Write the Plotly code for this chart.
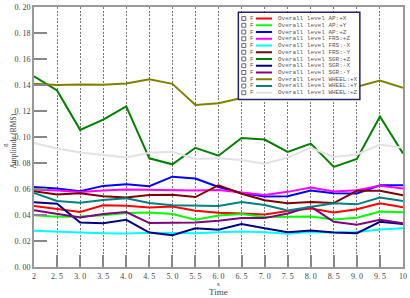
import plotly.graph_objects as go

time = [2.0, 2.5, 3.0, 3.5, 4.0, 4.5, 5.0, 5.5, 6.0, 6.5, 7.0, 7.5, 8.0, 8.5, 9.0, 9.5, 10.0]

ap_x = [0.0470, 0.0449, 0.0424, 0.0475, 0.0472, 0.0457, 0.0465, 0.0432, 0.0418, 0.0412, 0.0404, 0.0430, 0.0449, 0.0419, 0.0444, 0.0490, 0.0460]
ap_y = [0.0399, 0.0386, 0.0389, 0.0399, 0.0416, 0.0419, 0.0407, 0.0364, 0.0396, 0.0407, 0.0384, 0.0386, 0.0389, 0.0366, 0.0379, 0.0427, 0.0422]
ap_z = [0.0616, 0.0604, 0.0583, 0.0624, 0.0636, 0.0621, 0.0695, 0.0680, 0.0615, 0.0570, 0.0543, 0.0545, 0.0589, 0.0568, 0.0566, 0.0629, 0.0629]
frs_z = [0.0596, 0.0589, 0.0576, 0.0589, 0.0596, 0.0593, 0.0590, 0.0589, 0.0593, 0.0573, 0.0553, 0.0578, 0.0611, 0.0581, 0.0590, 0.0624, 0.0604]
frs_mx = [0.0278, 0.0270, 0.0265, 0.0260, 0.0258, 0.0263, 0.0260, 0.0260, 0.0267, 0.0273, 0.0267, 0.0255, 0.0270, 0.0265, 0.0270, 0.0288, 0.0298]
frs_my = [0.0583, 0.0558, 0.0568, 0.0545, 0.0535, 0.0553, 0.0556, 0.0538, 0.0629, 0.0563, 0.0513, 0.0490, 0.0500, 0.0492, 0.0586, 0.0586, 0.0551]
sgr_z = [0.1467, 0.1358, 0.1055, 0.1134, 0.1235, 0.0836, 0.0790, 0.0917, 0.0856, 0.0992, 0.0980, 0.0886, 0.0949, 0.0770, 0.0831, 0.1157, 0.0874]
sgr_mx = [0.0498, 0.0487, 0.0343, 0.0336, 0.0363, 0.0265, 0.0245, 0.0298, 0.0286, 0.0331, 0.0298, 0.0267, 0.0280, 0.0265, 0.0260, 0.0348, 0.0331]
sgr_my = [0.0437, 0.0407, 0.0381, 0.0407, 0.0423, 0.0338, 0.0343, 0.0343, 0.0356, 0.0376, 0.0376, 0.0412, 0.0465, 0.0348, 0.0326, 0.0364, 0.0336]
wheel_x = [0.1409, 0.1400, 0.1404, 0.1402, 0.1412, 0.1445, 0.1409, 0.1247, 0.1260, 0.1300, 0.1340, 0.1330, 0.1360, 0.1370, 0.1386, 0.1434, 0.1379]
wheel_y = [0.0570, 0.0508, 0.0495, 0.0515, 0.0529, 0.0492, 0.0475, 0.0475, 0.0470, 0.0500, 0.0477, 0.0434, 0.0462, 0.0490, 0.0482, 0.0535, 0.0508]
wheel_z = [0.0955, 0.0912, 0.0881, 0.0861, 0.0843, 0.0879, 0.0886, 0.0831, 0.0836, 0.0823, 0.0795, 0.0841, 0.0917, 0.0846, 0.0866, 0.0942, 0.0917]

series_names = ["Overall level AP:+X", "Overall level AP:+Y", "Overall level AP:+Z",
                "Overall level FRS:+Z", "Overall level FRS:-X", "Overall level FRS:-Y",
                "Overall level SGR:+Z", "Overall level SGR:-X", "Overall level SGR:-Y",
                "Overall level WHEEL:+X", "Overall level WHEEL:+Y", "Overall level WHEEL:+Z"]
series_values = [ap_x, ap_y, ap_z, frs_z, frs_mx, frs_my, sgr_z, sgr_mx, sgr_my, wheel_x, wheel_y, wheel_z]
series_colors = ["#ff0000", "#00ff00", "#0000ff", "#ff00ff", "#00ffff", "#800000",
                 "#008000", "#000080", "#800080", "#808000", "#008080", "#e2e2e2"]

x_tickvals = [2, 2.5, 3, 3.5, 4, 4.5, 5, 5.5, 6, 6.5, 7, 7.5, 8, 8.5, 9, 9.5, 10]
x_ticktext = ["2", "2. 5", "3. 0", "3. 5", "4. 0", "4. 5", "5. 0", "5. 5", "6. 0", "6. 5",
              "7. 0", "7. 5", "8. 0", "8. 5", "9. 0", "9. 5", "10"]
y_tickvals = [0.00, 0.02, 0.04, 0.06, 0.08, 0.10, 0.12, 0.14, 0.16, 0.18, 0.20]
y_ticktext = ["0. 00", "0. 02", "0. 04", "0. 06", "0. 08", "0. 10", "0. 12", "0. 14", "0. 16", "0. 18", "0. 20"]

W, H = 410, 298
ML, MR, MT, MB = 34, 4, 3, 31
PW, PH = W - ML - MR, H - MT - MB


def px(x):
    return (x - ML) / PW


def py(y):
    return (H - MB - y) / PH


fig = go.Figure()
for name, vals, col in zip(series_names, series_values, series_colors):
    fig.add_trace(go.Scatter(x=time, y=vals, mode="lines", name=name,
                             line=dict(color=col, width=2), showlegend=False))

shapes = []
annotations = []

# legend box
shapes.append(dict(type="rect", xref="paper", yref="paper",
                   x0=px(240), x1=px(362.5), y0=py(97), y1=py(8.3),
                   fillcolor="white", line=dict(color="#24246e", width=1.5), layer="above"))
for i, (name, col) in enumerate(zip(series_names, series_colors)):
    yc = 14.7 + i * 6.85
    shapes.append(dict(type="rect", xref="paper", yref="paper",
                       x0=px(243.5), x1=px(247.5), y0=py(yc + 2), y1=py(yc - 2),
                       fillcolor="white", line=dict(color="#666", width=1), layer="above"))
    shapes.append(dict(type="line", xref="paper", yref="paper",
                       x0=px(257.7), x1=px(274), y0=py(yc), y1=py(yc),
                       line=dict(color=col, width=2), layer="above"))
    annotations.append(dict(x=px(249.5), y=py(yc), xref="paper", yref="paper", text="F",
                            showarrow=False, xanchor="left", yanchor="middle",
                            font=dict(family="Liberation Mono", size=6, color="#555")))
    annotations.append(dict(x=px(277.5), y=py(yc), xref="paper", yref="paper", text=name,
                            showarrow=False, xanchor="left", yanchor="middle",
                            font=dict(family="Liberation Mono", size=6, color="#555")))

# axis titles
annotations.append(dict(x=px(220), y=py(284.5), xref="paper", yref="paper", text="s",
                        showarrow=False, xanchor="center", yanchor="middle",
                        font=dict(family="Liberation Serif", size=7, color="#444")))
annotations.append(dict(x=px(220), y=py(292.5), xref="paper", yref="paper", text="Time",
                        showarrow=False, xanchor="center", yanchor="middle",
                        font=dict(family="Liberation Serif", size=9, color="#444")))
annotations.append(dict(x=px(13.5), y=py(139), xref="paper", yref="paper", text="Amplitude (RMS)",
                        showarrow=False, xanchor="center", yanchor="middle", textangle=-90,
                        font=dict(family="Liberation Serif", size=7.5, color="#444")))
annotations.append(dict(x=px(5), y=py(143), xref="paper", yref="paper", text="g",
                        showarrow=False, xanchor="center", yanchor="middle", textangle=-90,
                        font=dict(family="Liberation Serif", size=7, color="#444")))

fig.update_layout(
    width=W, height=H, autosize=False,
    margin=dict(l=ML, r=MR, t=MT, b=MB, pad=0),
    plot_bgcolor="white", paper_bgcolor="white",
    showlegend=False,
    shapes=shapes, annotations=annotations,
    font=dict(family="Liberation Serif", size=8, color="#444"),
)
fig.update_xaxes(range=[2, 10], tickvals=x_tickvals, ticktext=x_ticktext,
                 ticks="inside", ticklen=12, tickwidth=1.5, tickcolor="#888",
                 showgrid=True, gridcolor="#777", gridwidth=1, griddash="2px,1.5px",
                 showline=True, linecolor="#999", linewidth=2, mirror=True,
                 zeroline=False, tickfont=dict(family="Liberation Serif", size=8, color="#444"))
fig.update_yaxes(range=[0, 0.2], tickvals=y_tickvals, ticktext=y_ticktext,
                 ticks="inside", ticklen=13, tickwidth=2, tickcolor="#888",
                 showgrid=False, showline=True, linecolor="#999", linewidth=2, mirror=True,
                 zeroline=False, tickfont=dict(family="Liberation Serif", size=8, color="#444"))

fig.write_html("out.html", config={"displayModeBar": False},
               post_script="document.body.style.margin='0';")
